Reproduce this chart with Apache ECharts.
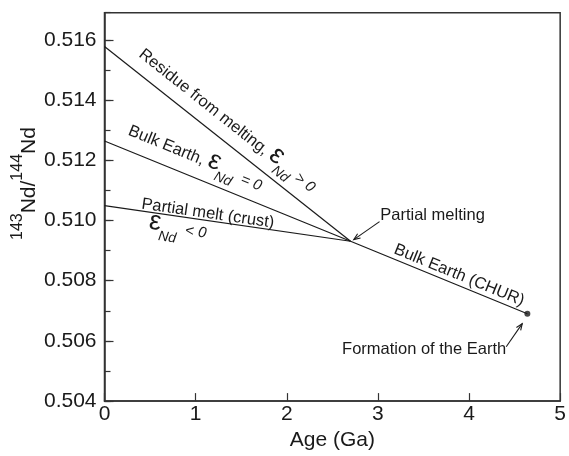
<!DOCTYPE html>
<html><head><meta charset="utf-8">
<script src="https://cdn.jsdelivr.net/npm/echarts@6/dist/echarts.min.js"></script>
<style>html,body{margin:0;padding:0;background:#fff}#c{width:569px;height:456px}</style>
</head><body><div id="c"></div>
<script>
// ---- data ----
const residueAge = [0, 2.7];
const residueRatio = [0.51578, 0.50931];
const bulkAge = [0, 2.7, 4.64];
const bulkRatio = [0.51264, 0.50931, 0.50690];
const meltAge = [0, 2.7];
const meltRatio = [0.51049, 0.50931];
const formationAge = [4.64];
const formationRatio = [0.50690];
const xTickLabels = ['0', '1', '2', '3', '4', '5'];
const yTickLabels = ['0.504', '0.506', '0.508', '0.510', '0.512', '0.514', '0.516'];

const zip = (a, b) => a.map((v, i) => [v, b[i]]);
const FONT = '"Liberation Sans", Arial, Helvetica, sans-serif';
const INK = '#1a1a1a';
const AX = '#333';

const chart = echarts.init(document.getElementById('c'), null, {renderer: 'canvas'});
const lineStyle = {color: INK, width: 1.2};
chart.setOption({
  animation: false,
  backgroundColor: '#fff',
  grid: {left: 104.5, right: 6.3, top: 12.7, bottom: 49.3, show: true, borderColor: AX, borderWidth: 1.5},
  xAxis: {
    type: 'value', min: 0, max: 5, interval: 1,
    axisLine: {lineStyle: {color: AX, width: 1.5}},
    axisTick: {inside: true, length: 8, lineStyle: {color: AX, width: 1.2}},
    axisLabel: {fontSize: 21, fontFamily: FONT, color: INK, margin: 3,
      formatter: v => xTickLabels[Math.round(v)] ?? ''},
    splitLine: {show: false},
    name: 'Age (Ga)', nameLocation: 'middle', nameGap: 25,
    nameTextStyle: {fontSize: 21, fontFamily: FONT, color: INK}
  },
  yAxis: [{
    type: 'value', min: 0.504, max: 0.5169, interval: 0.002,
    axisLine: {lineStyle: {color: AX, width: 1.5}},
    axisTick: {inside: true, length: 9, lineStyle: {color: AX, width: 1.2}},
    axisLabel: {fontSize: 21, fontFamily: FONT, color: INK, margin: 8, showMaxLabel: false,
      formatter: v => { const s = v.toFixed(3); return yTickLabels.includes(s) ? s : ''; }},
    splitLine: {show: false}
  }, {
    type: 'value', min: 0.504, max: 0.5169, interval: 0.001, position: 'left', offset: 0,
    axisLine: {show: false},
    axisTick: {inside: true, length: 6, lineStyle: {color: AX, width: 1.2}},
    axisLabel: {show: false},
    splitLine: {show: false}
  }],
  series: [
    {type: 'line', data: zip(residueAge, residueRatio), showSymbol: false, lineStyle, silent: true},
    {type: 'line', data: zip(bulkAge, bulkRatio), showSymbol: false, lineStyle, silent: true},
    {type: 'line', data: zip(meltAge, meltRatio), showSymbol: false, lineStyle, silent: true},
    {type: 'scatter', data: zip(formationAge, formationRatio), symbolSize: 6, itemStyle: {color: INK}, silent: true}
  ]
});

// ---- annotations ----
const px = (x, y) => chart.convertToPixel({xAxisIndex: 0, yAxisIndex: 0}, [x, y]);
const mctx = document.createElement('canvas').getContext('2d');
const fontStr = p => (p.it ? 'italic ' : '') + (p.b ? 'bold ' : '') + p.s + 'px ' + FONT;
const tw = (t, f) => { mctx.font = f; return mctx.measureText(t).width; };
function angleOf(ax, ay, i0, i1) {
  const a = px(ax[i0], ay[i0]), b = px(ax[i1], ay[i1]);
  return Math.atan2(b[1] - a[1], b[0] - a[0]);
}
function label(pos, rot, pieces) {
  let cx = 0; const children = [];
  pieces.forEach(p => {
    cx += p.gap || 0;
    const f = fontStr(p);
    children.push({type: 'text', x: cx, y: (p.dy || 0) - 0.35 * p.s,
      style: {text: p.t, font: f, fill: INK, align: 'left', verticalAlign: 'middle',
              textAlign: 'left', textVerticalAlign: 'middle'}});
    cx += tw(p.t, f) + (p.after || 0);
  });
  return {type: 'group', x: pos[0], y: pos[1], rotation: rot, silent: true, children};
}
function arrow(from, to) {
  const ang = Math.atan2(to[1] - from[1], to[0] - from[0]), L = 7, a = 0.38;
  const h1 = [to[0] - L * Math.cos(ang - a), to[1] - L * Math.sin(ang - a)];
  const h2 = [to[0] - L * Math.cos(ang + a), to[1] - L * Math.sin(ang + a)];
  return [
    {type: 'polyline', silent: true, shape: {points: [from, to]}, style: {stroke: INK, lineWidth: 1.1, fill: null}},
    {type: 'polyline', silent: true, shape: {points: [h1, to, h2]}, style: {stroke: INK, lineWidth: 1.1, fill: null}}
  ];
}
const aRes = angleOf(residueAge, residueRatio, 0, 1);
const aBulk = angleOf(bulkAge, bulkRatio, 0, 2);
const aMelt = angleOf(meltAge, meltRatio, 0, 1);
const eps = {t: 'ε', s: 27, after: -1};
const graphics = [
  label(px(0.358, 0.515432), -aRes, [
    {t: 'Residue from melting, ', s: 16.5}, eps,
    {t: 'Nd', s: 14, it: true, dy: 8}, {t: '> 0', s: 15, it: true, gap: 5, dy: 0}]),
  label(px(0.2456, 0.512817), -aBulk, [
    {t: 'Bulk Earth, ', s: 16.5}, eps,
    {t: 'Nd', s: 14, it: true, dy: 9}, {t: '= 0', s: 15, it: true, gap: 8, dy: 2}]),
  label(px(0.398, 0.510356), -aMelt, [{t: 'Partial melt (crust)', s: 16.5}]),
  label(px(0.476, 0.509667), -aMelt, [
    eps, {t: 'Nd', s: 14, it: true, dy: 9}, {t: '< 0', s: 15, it: true, gap: 8, dy: 0}]),
  label(px(3.160, 0.508880), -aBulk, [{t: 'Bulk Earth (CHUR)', s: 16.5}]),
  label(px(3.026, 0.509962), 0, [{t: 'Partial melting', s: 16.5}]),
  label(px(2.607, 0.505532), 0, [{t: 'Formation of the Earth', s: 16.5}]),
  ...arrow(px(3.018, 0.509962), px(2.735, 0.509362)),
  ...arrow(px(4.408, 0.505805), px(4.584, 0.506573)),
  // y-axis title
  label([36.5, 240], Math.PI / 2, [
    {t: '143', s: 16, dy: -13}, {t: 'Nd/', s: 21}, {t: '144', s: 16, dy: -13}, {t: 'Nd', s: 21}])
];
chart.setOption({graphic: graphics});
</script>
</body></html>
